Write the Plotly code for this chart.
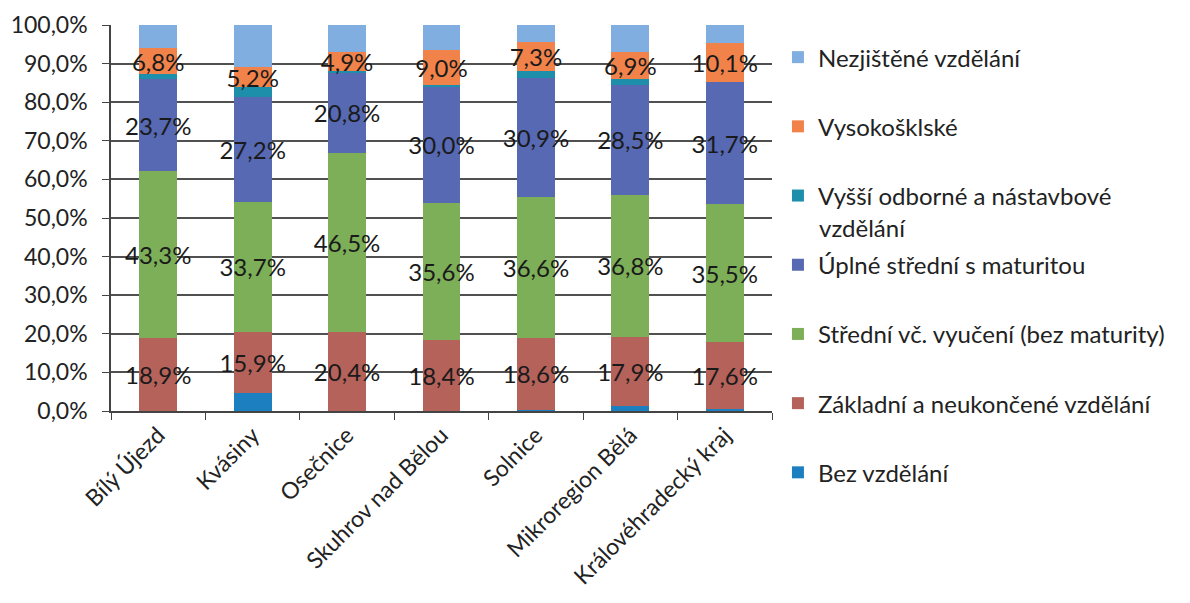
import plotly.graph_objects as go

categories = ["Bílý Újezd", "Kvásiny", "Osečnice", "Skuhrov nad Bělou", "Solnice",
              "Mikroregion Bělá", "Královéhradecký kraj"]

bez = [0.0, 4.6, 0.0, 0.0, 0.3, 1.3, 0.4]
zakladni = [18.9, 15.9, 20.4, 18.4, 18.6, 17.9, 17.6]
stredni = [43.3, 33.7, 46.5, 35.6, 36.6, 36.8, 35.5]
uplne = [23.7, 27.2, 20.8, 30.0, 30.9, 28.5, 31.7]
vyssi = [1.3, 2.5, 0.5, 0.5, 1.8, 1.5, 0.0]
vysokoskolske = [6.8, 5.2, 4.9, 9.0, 7.3, 6.9, 10.1]
nezjistene = [6.0, 10.9, 6.9, 6.5, 4.5, 7.1, 4.7]

series = [
    ("Bez vzdělání", bez, "#1c7fc0", False),
    ("Základní a neukončené vzdělání", zakladni, "#b5625a", True),
    ("Střední vč. vyučení (bez maturity)", stredni, "#7dae58", True),
    ("Úplné střední s maturitou", uplne, "#5669b2", True),
    ("Vyšší odborné a nástavbové", vyssi, "#1d8fab", False),
    ("Vysokošklské", vysokoskolske, "#f1834a", True),
    ("Nezjištěné vzdělání", nezjistene, "#80aee0", False),
]
legend_continuation = "vzdělání"

FONT = "Lato, 'Open Sans', sans-serif"

fig = go.Figure()
n = len(series)
for i, (name, vals, color, show) in enumerate(series):
    fig.add_trace(go.Bar(
        x=categories,
        y=[v / 100 for v in vals],
        name=name,
        legendgroup=str(i),
        legendrank=n - i,
        marker=dict(color=color, line=dict(width=0)),
        text=[("%.1f%%" % v).replace(".", ",") for v in vals] if show else None,
        textposition="inside" if show else "none",
        insidetextanchor="middle",
        textangle=0,
        constraintext="none",
        textfont=dict(family=FONT, size=24, color="#1a1a1a"),
        cliponaxis=False,
    ))

fig.add_annotation(
    text=legend_continuation,
    xref="paper", yref="paper",
    x=1.068, y=0.476, xanchor="left", yanchor="middle",
    showarrow=False,
    font=dict(family=FONT, size=24, color="#222222"),
)

fig.update_layout(
    barmode="stack",
    bargap=0.6,
    width=1190, height=603,
    margin=dict(l=103, r=426, t=17, b=200, autoexpand=False),
    paper_bgcolor="white",
    plot_bgcolor="white",
    separators=", ",
    font=dict(family=FONT, size=23, color="#222222"),
    showlegend=True,
    legend=dict(
        traceorder="grouped",
        tracegroupgap=35,
        x=1.009, xanchor="left",
        y=0.974, yanchor="top",
        valign="top",
        maxheight=600,
        font=dict(family=FONT, size=24, color="#222222"),
        itemwidth=30,
        bgcolor="rgba(0,0,0,0)",
    ),
    xaxis=dict(
        automargin=False,
        showline=True, linecolor="#444444", linewidth=1.5,
        ticks="outside", tickson="boundaries", ticklen=7, tickcolor="#444444",
        tickangle=-45,
        tickfont=dict(family=FONT, size=23, color="#222222"),
    ),
    yaxis=dict(
        automargin=False,
        range=[0, 1],
        tickvals=[i / 10 for i in range(11)],
        tickformat=".1%",
        showgrid=True, gridcolor="#505050", gridwidth=1.5,
        showline=True, linecolor="#444444", linewidth=1.5,
        ticks="outside", ticklen=7, tickcolor="#444444",
        ticklabelstandoff=10,
        tickfont=dict(family=FONT, size=23, color="#222222"),
        zeroline=False,
    ),
)

fig.write_html("out.html")
